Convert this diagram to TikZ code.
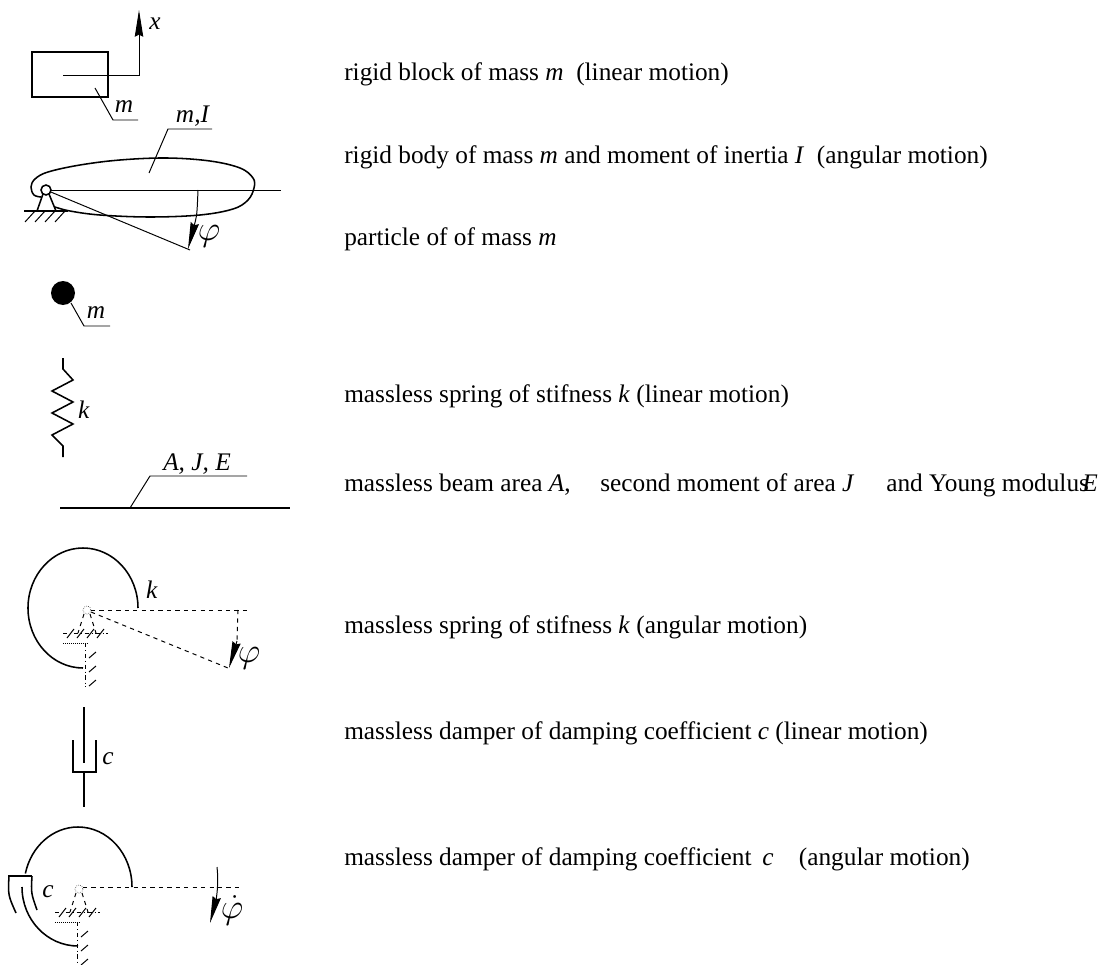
\documentclass[tikz,border=0pt]{standalone}
\usepackage{fontspec}
\setmainfont{Liberation Serif}
\usepackage{tikz}
\usetikzlibrary{arrows.meta}
\newcommand{\hiddenpin}[2]{ \draw[densely dotted] ( #1 , #2 ) circle (4); \draw[hidden] ( #1 - 3 , #2 + 4 ) -- ( #1 - 9 , #2 + 23 ); \draw[hidden] ( #1 + 3 , #2 + 4 ) -- ( #1 + 9 , #2 + 23 ); \draw[hidden, dash dot] ( #1 - 24 , #2 + 23 ) -- ( #1 + 21 , #2 + 23 ); \foreach \h in {-20,-10,0,10} \draw[leader] ( #1 + \h , #2 + 28 ) -- ( #1 + \h + 7 , #2 + 19 ); \draw[densely dotted] ( #1 - 24 , #2 + 33 ) -- ( #1 , #2 + 33 ); \draw[hidden, dash dot] ( #1 - 2 , #2 + 33 ) -- ( #1 - 2 , #2 + 77 ); \foreach \v in {42,56,70} \draw[leader] ( #1 + 2 , #2 + \v + 6 ) -- ( #1 + 9 , #2 + \v );}
\newcommand{\legend}[3]{ \node[anchor=base west, inner sep=0pt] (#1) at ( 344 , #2 ){#3};}

\begin{document}
\begin{tikzpicture}[x=0.025cm, y=-0.025cm,
        body/.style={line width=1.1pt},
        leader/.style={line width=0.7pt},
        hidden/.style={dashed, line width=0.7pt},
        motionarrow/.style={line width=0.7pt, -{Stealth[length=19pt,width=6pt,inset=1.5pt]}},
        greek/.style={font=\fontsize{25}{30}\selectfont},
        every node/.style={font=\fontsize{18}{22}\selectfont}]
        \useasboundingbox ( 0 , 0 ) rectangle ( 1099 , 965 );

        % rigid block
        \draw[body] ( 32 , 52 ) rectangle ( 108 , 97 );
        \draw[motionarrow] ( 63 , 75 ) -- ( 139 , 75 ) -- ( 139 , 10 );
        \node (blockx) at ( 155 , 24 ){\textit{x}};
        \draw[leader] ( 95 , 88 ) -- ( 113 , 120 ) -- ( 138 , 120 );
        \node[anchor=base, inner sep=0pt] (blockm) at ( 124 , 113 ){\textit{m}};

        % rigid body on pin
        \draw[body] plot[smooth, tension=0.6] coordinates {(41,197) (34,195) (31,187) (35,179) (48,172) (80,165) (120,160) (167,158) (210,161) (240,168) (253,178) (254,188) (248,200) (233,209) (200,215) (150,217) (100,215) (70,211) (55,207)};
        \draw[leader] ( 46 , 190 ) -- ( 281 , 190 );
        \draw[leader] ( 46 , 190 ) -- ( 190 , 250 );
        \draw[body] ( 43 , 194 ) -- ( 37 , 211 );
        \draw[body] ( 49 , 194 ) -- ( 56 , 211 );
        \draw[body] ( 24 , 211 ) -- ( 68 , 211 );
        \foreach \h in {25,35,45,55} \draw[leader] ( \h , 222 ) -- ( \h + 10 , 211 );
        \draw[body, fill=white] ( 46 , 190 ) circle (5);
        \draw[motionarrow] ( 198 , 190 ) .. controls ( 197 , 215 ) .. ( 188 , 249 );
        \node[greek] (bodyphi) at ( 209 , 236 ){$\varphi$};
        \draw[leader] ( 149 , 173 ) -- ( 168 , 129 ) -- ( 212 , 129 );
        \node[anchor=base, inner sep=0pt] (bodymI) at ( 193 , 123 ){\textit{m,I}};

        % particle
        \fill ( 63 , 293 ) circle (12);
        \draw[leader] ( 71 , 303 ) -- ( 84 , 326 ) -- ( 110 , 326 );
        \node[anchor=base, inner sep=0pt] (particlem) at ( 96 , 318 ){\textit{m}};

        % linear spring
        \draw[body] plot coordinates {(63,358) (63,369) (73,380) (52,391) (73,402) (52,413) (73,424) (52,435) (63,446) (63,457)};
        \node (springk) at ( 84 , 410 ){\textit{k}};

        % beam
        \draw[body] ( 60 , 508 ) -- ( 290 , 508 );
        \draw[leader] ( 130 , 508 ) -- ( 150 , 476 ) -- ( 247 , 476 );
        \node[anchor=base, inner sep=0pt] (beamAJE) at ( 197 , 470 ){\textit{A, J, E}};

        % angular spring
        \draw[body] ( 138 , 608 ) arc[start angle=0, end angle=-270, x radius=55, y radius=60];
        \draw[hidden] ( 91 , 610 ) -- ( 248 , 610 );
        \draw[hidden] ( 91 , 612 ) -- ( 228 , 668 );
        \draw[hidden] ( 238 , 610 ) -- ( 237 , 643 );
        \draw[motionarrow] ( 237 , 641 ) -- ( 229 , 668 );
        \hiddenpin{87}{610}
        \node (torsionk) at ( 152 , 590 ){\textit{k}};
        \node[greek] (torsionphi) at ( 249 , 658 ){$\varphi$};

        % linear damper
        \draw[body] ( 84 , 707 ) -- ( 84 , 763 );
        \draw[body] ( 73 , 740 ) -- ( 73 , 772 ) -- ( 96 , 772 ) -- ( 96 , 740 );
        \draw[body] ( 84 , 772 ) -- ( 84 , 807 );
        \node (damperc) at ( 108 , 759 ){\textit{c}};

        % angular damper
        \draw[body] ( 132 , 887 ) arc[start angle=0, end angle=-167, x radius=54, y radius=60];
        \draw[body] ( 8 , 876 ) -- ( 32 , 876 );
        \draw[body] ( 9 , 876 ) .. controls ( 8 , 895 ) .. ( 16 , 913 );
        \draw[body] ( 32 , 876 ) .. controls ( 31 , 893 ) .. ( 37 , 910 );
        \draw[body] ( 22 , 887 ) arc[start angle=180, end angle=90, x radius=56, y radius=59];
        \draw[hidden] ( 83 , 887 ) -- ( 242 , 887 );
        \draw[motionarrow] ( 217 , 867 ) .. controls ( 219 , 885 ) and ( 216 , 900 ) .. ( 210 , 923 );
        \hiddenpin{79}{889}
        \node (rotdamperc) at ( 48 , 892 ){\textit{c}};
        \node[greek] (rotdamperphi) at ( 232 , 910 ){$\dot{\varphi}$};

        % text
        \legend{txtblock}{81}{rigid block of mass \textit{m}\ \ (linear motion)}
        \legend{txtbody}{164}{rigid body of mass \textit{m} and moment of inertia \textit{I}\ \ (angular motion)}
        \legend{txtparticle}{246}{particle of of mass \textit{m}}
        \legend{txtspring}{402}{massless spring of stifness \textit{k} (linear motion)}
        \legend{txtbeam}{491}{massless beam area \textit{A},}
        \node[anchor=base west, inner sep=0pt] (txtbeamJ) at ( 600 , 491 ){second moment of area \textit{J}};
        \node[anchor=base west, inner sep=0pt] (txtbeamE) at ( 886 , 491 ){and Young modulus};
        \node[anchor=base east, inner sep=0pt] (txtbeamEE) at ( 1098 , 491 ){\textit{E}};
        \legend{txttorsion}{633}{massless spring of stifness \textit{k} (angular motion)}
        \legend{txtdamper}{739}{massless damper of damping coefficient \textit{c} (linear motion)}
        \legend{txtrotdamper}{865}{massless damper of damping coefficient\hspace{0.43em}\textit{c}\hspace{1em}(angular motion)}
    \end{tikzpicture}
\end{document}
